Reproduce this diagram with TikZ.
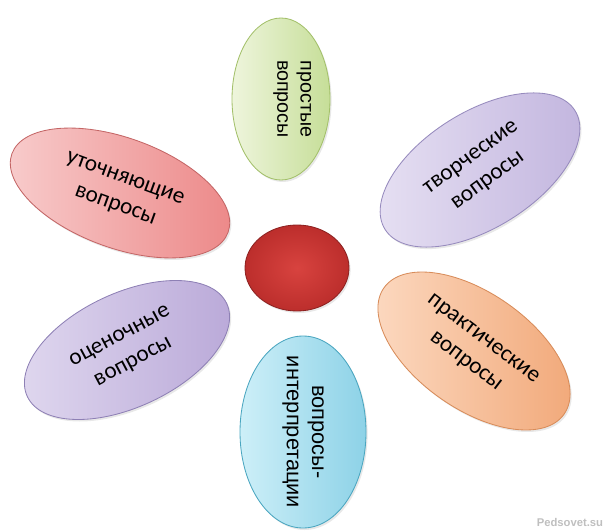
\documentclass[tikz,border=0pt]{standalone}
\usepackage{fontspec}
\setmainfont{Liberation Sans}
\newfontfamily\petalfont{Carlito}
\usepackage{tikz}
\usetikzlibrary{shapes.geometric,shadows}

\definecolor{greenA}{HTML}{EEF5DC}
\definecolor{greenB}{HTML}{C6DE98}
\definecolor{greenE}{HTML}{A3C06A}
\definecolor{pinkA}{HTML}{F8CDCD}
\definecolor{pinkB}{HTML}{EC8787}
\definecolor{pinkE}{HTML}{C46666}
\definecolor{lilacA}{HTML}{E7E1F3}
\definecolor{lilacB}{HTML}{C1B4DE}
\definecolor{lilacE}{HTML}{968ABD}
\definecolor{violA}{HTML}{E0D8EF}
\definecolor{violB}{HTML}{B9A8D8}
\definecolor{violE}{HTML}{8E80B5}
\definecolor{orngA}{HTML}{FCDAC2}
\definecolor{orngB}{HTML}{F1A777}
\definecolor{orngE}{HTML}{D88C5A}
\definecolor{blueA}{HTML}{CDEFF8}
\definecolor{blueB}{HTML}{8DD2E7}
\definecolor{blueE}{HTML}{4AA6C0}
\definecolor{coreA}{HTML}{D8433F}
\definecolor{coreB}{HTML}{BC2E2C}

\tikzset{
  petal/.style={ellipse, draw, line width=0.6pt, inner sep=0pt,
    drop shadow={opacity=0.18, shadow xshift=0.04cm, shadow yshift=-0.05cm}},
  sidetxt/.style={align=center, font=\petalfont\fontsize{16.5}{20.5}\selectfont},
  uptxt/.style={align=center, font=\fontsize{14}{16.5}\selectfont}
}

\begin{document}
\begin{tikzpicture}
			%%%%% START %%%%%
			\useasboundingbox (0, 0) rectangle (15.225, 13.275);
			
			\node[petal, draw=greenE, left color=greenA, right color=greenB, rotate=-90,
			      minimum width=4.05cm, minimum height=2.45cm] (prost) at (7.025, 10.8) {};
			\node[uptxt, rotate=-90] (prost-t) at ([xshift=0.28cm]prost.center) {простые\\вопросы};
			
			\node[petal, draw=lilacE, left color=lilacA, right color=lilacB, rotate=32,
			      minimum width=5.6cm, minimum height=2.9cm] (tvorch) at (12.0, 9.025) {};
			\node[sidetxt, rotate=36] (tvorch-t) at (tvorch.center) {творческие\\вопросы};
			
			\node[petal, draw=pinkE, left color=pinkA, right color=pinkB, rotate=-20,
			      minimum width=5.75cm, minimum height=2.75cm] (utoch) at (3.0, 8.45) {};
			\node[sidetxt, rotate=-20] (utoch-t) at (utoch.center) {уточняющие\\вопросы};
			
			\node[petal, draw=violE, left color=violA, right color=violB, rotate=25,
			      minimum width=5.5cm, minimum height=2.85cm] (ocen) at (3.175, 4.525) {};
			\node[sidetxt, rotate=28] (ocen-t) at (ocen.center) {оценочные\\вопросы};
			
			\node[petal, draw=orngE, left color=orngA, right color=orngB, rotate=-35,
			      minimum width=5.5cm, minimum height=2.9cm] (prakt) at (11.85, 4.5) {};
			\node[sidetxt, rotate=-37] (prakt-t) at (prakt.center) {практические\\вопросы};
			
			\node[petal, draw=blueE, left color=blueA, right color=blueB, rotate=-90,
			      minimum width=4.8cm, minimum height=3.15cm] (interp) at (7.575, 2.475) {};
			\node[uptxt, rotate=-90, font=\fontsize{15.5}{18}\selectfont] (interp-t) at (interp.center) {вопросы-\\интерпретации};
			
			\node[petal, draw=coreB!75!black, inner color=coreA, outer color=coreB,
			      minimum width=2.6cm, minimum height=2.15cm] (core) at (7.425, 6.575) {};
			
			\node[anchor=east, text=black!25, font=\bfseries\fontsize{8}{9}\selectfont] (mark) at (15.2, 0.22) {Pedsovet.su};
			%%%%% END %%%%%
\end{tikzpicture}
\end{document}
